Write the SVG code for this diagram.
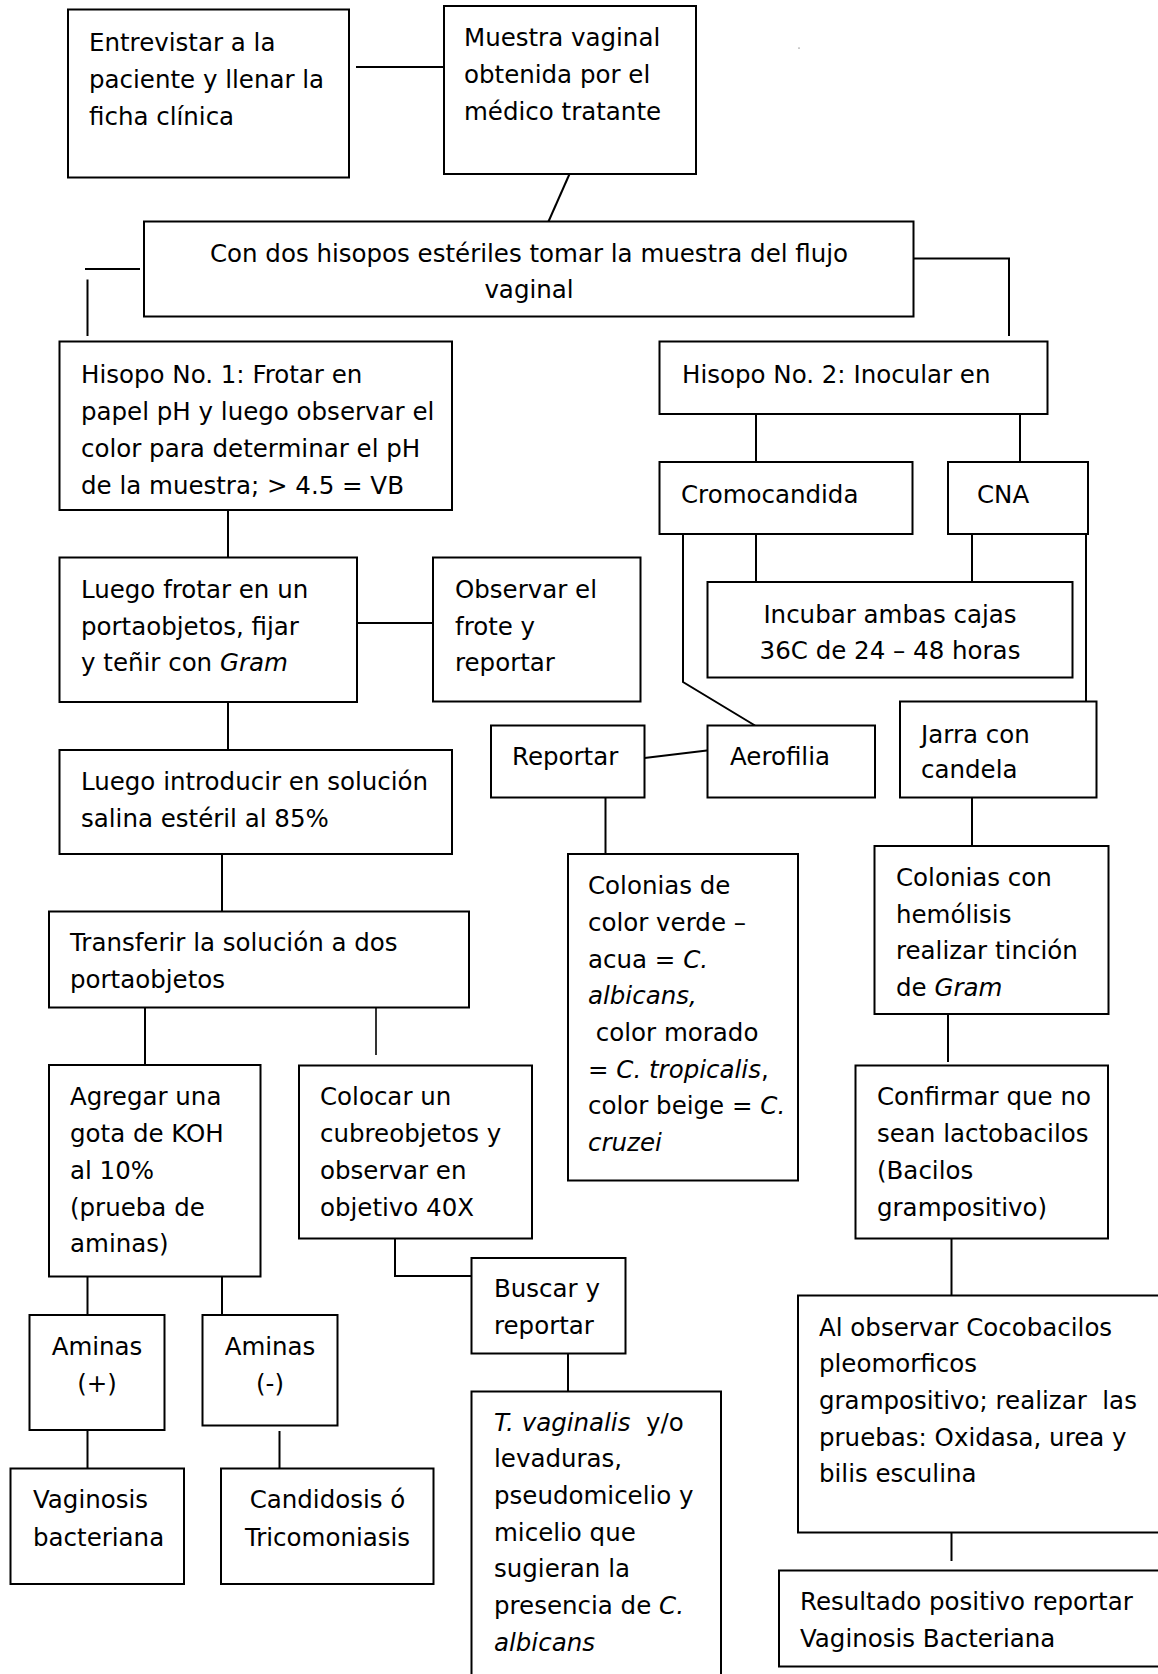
<svg xmlns="http://www.w3.org/2000/svg" width="1158" height="1674" viewBox="0 0 1158 1674">
<style>
.box{fill:#fff;stroke:#000;stroke-width:2}
.t{font-family:"DejaVu Sans",sans-serif;font-size:24.5px;fill:#000}
.i{font-style:italic}
.c{text-anchor:middle}
.ln{stroke:#000;stroke-width:2;fill:none}
</style>
<rect width="1158" height="1674" fill="#fff"/>
<g id="connectors">
<path class="ln" d="M356,67 H452"/>
<path class="ln" d="M569.5,174 L548.5,221.5"/>
<path class="ln" d="M85,269 H140"/>
<path class="ln" d="M87.5,279.5 V336"/>
<path class="ln" d="M913.5,258.5 H1009 V336"/>
<path class="ln" d="M756,414 V462"/>
<path class="ln" d="M1020,414 V462"/>
<path class="ln" d="M756,534 V582"/>
<path class="ln" d="M972,534 V582"/>
<path class="ln" d="M683,528 V682 L755,725.5"/>
<path class="ln" d="M1086,528 V701.5"/>
<path class="ln" d="M644.5,758 L711,750"/>
<path class="ln" d="M228,510 V557.5"/>
<path class="ln" d="M357,623 H433"/>
<path class="ln" d="M228,702 V750"/>
<path class="ln" d="M222,854 V911.5"/>
<path class="ln" d="M145,1007.5 V1065"/>
<path class="ln" d="M376,1007.5 V1055" style="stroke-width:1.6"/>
<path class="ln" d="M605.5,797.5 V854"/>
<path class="ln" d="M972,797.5 V846"/>
<path class="ln" d="M948,1014 V1062"/>
<path class="ln" d="M951.5,1238.5 V1295.5"/>
<path class="ln" d="M951.5,1532.5 V1561"/>
<path class="ln" d="M395,1238.5 V1276 H471.5"/>
<path class="ln" d="M568,1353.5 V1391.5"/>
<path class="ln" d="M87.5,1276.5 V1315"/>
<path class="ln" d="M222,1276.5 V1315"/>
<path class="ln" d="M87.5,1430 V1468.5"/>
<path class="ln" d="M279.5,1431 V1468.5"/>
</g>
<rect x="798.5" y="47.5" width="1" height="1.2" fill="#666"/>
<g id="n1"><rect class="box" x="68" y="9.5" width="281" height="168"/>
<text class="t"><tspan x="89" y="51">Entrevistar a la</tspan><tspan x="89" y="88">paciente y llenar la</tspan><tspan x="89" y="125">ficha clínica</tspan></text></g>
<g id="n2"><rect class="box" x="444" y="6" width="252" height="168"/>
<text class="t"><tspan x="464" y="46">Muestra vaginal</tspan><tspan x="464" y="83">obtenida por el</tspan><tspan x="464" y="120">médico tratante</tspan></text></g>
<g id="n3"><rect class="box" x="144" y="221.5" width="769.5" height="95"/>
<text class="t c"><tspan x="529" y="262">Con dos hisopos estériles tomar la muestra del flujo</tspan><tspan x="529" y="298">vaginal</tspan></text></g>
<g id="n4"><rect class="box" x="59.5" y="341.5" width="392.5" height="168.5"/>
<text class="t"><tspan x="81" y="383">Hisopo No. 1: Frotar en</tspan><tspan x="81" y="420">papel pH y luego observar el</tspan><tspan x="81" y="457">color para determinar el pH</tspan><tspan x="81" y="494">de la muestra; &gt; 4.5 = VB</tspan></text></g>
<g id="n5"><rect class="box" x="659.5" y="341.5" width="388" height="72.5"/>
<text class="t" x="682" y="383">Hisopo No. 2: Inocular en</text></g>
<g id="n6"><rect class="box" x="659.5" y="462" width="253" height="72"/>
<text class="t" x="681" y="503">Cromocandida</text></g>
<g id="n7"><rect class="box" x="948" y="462" width="140" height="72"/>
<text class="t" x="977" y="503">CNA</text></g>
<g id="n8"><rect class="box" x="707.5" y="582" width="365" height="95.5"/>
<text class="t c"><tspan x="890" y="623">Incubar ambas cajas</tspan><tspan x="890" y="659">36C de 24 – 48 horas</tspan></text></g>
<g id="n9"><rect class="box" x="433" y="557.5" width="207.5" height="144"/>
<text class="t"><tspan x="455" y="598">Observar el</tspan><tspan x="455" y="635">frote y</tspan><tspan x="455" y="671">reportar</tspan></text></g>
<g id="n10"><rect class="box" x="59.5" y="557.5" width="297.5" height="144.5"/>
<text class="t"><tspan x="81" y="598">Luego frotar en un</tspan><tspan x="81" y="635">portaobjetos, fijar</tspan><tspan x="81" y="671">y teñir con <tspan class="i">Gram</tspan></tspan></text></g>
<g id="n11"><rect class="box" x="491" y="725.5" width="153.5" height="72"/>
<text class="t" x="512" y="765">Reportar</text></g>
<g id="n12"><rect class="box" x="707.5" y="725.5" width="167.5" height="72"/>
<text class="t" x="730" y="765">Aerofilia</text></g>
<g id="n13"><rect class="box" x="900" y="701.5" width="196.5" height="96"/>
<text class="t"><tspan x="921" y="743">Jarra con</tspan><tspan x="921" y="778">candela</tspan></text></g>
<g id="n14"><rect class="box" x="59.5" y="750" width="392.5" height="104"/>
<text class="t"><tspan x="81" y="790">Luego introducir en solución</tspan><tspan x="81" y="827">salina estéril al 85%</tspan></text></g>
<g id="n15"><rect class="box" x="568" y="854" width="230" height="326.5"/>
<text class="t" xml:space="preserve"><tspan x="588" y="894">Colonias de</tspan><tspan x="588" y="931">color verde –</tspan><tspan x="588" y="968">acua = <tspan class="i">C.</tspan></tspan><tspan x="588" y="1004" class="i">albicans,</tspan><tspan x="588" y="1041"> color morado</tspan><tspan x="588" y="1078">= <tspan class="i">C. tropicalis</tspan>,</tspan><tspan x="588" y="1114">color beige = <tspan class="i">C.</tspan></tspan><tspan x="588" y="1151" class="i">cruzei</tspan></text></g>
<g id="n16"><rect class="box" x="874.5" y="846" width="234" height="168"/>
<text class="t"><tspan x="896" y="886">Colonias con</tspan><tspan x="896" y="923">hemólisis</tspan><tspan x="896" y="959">realizar tinción</tspan><tspan x="896" y="996">de <tspan class="i">Gram</tspan></tspan></text></g>
<g id="n17"><rect class="box" x="49" y="911.5" width="420" height="96"/>
<text class="t"><tspan x="70" y="951">Transferir la solución a dos</tspan><tspan x="70" y="988">portaobjetos</tspan></text></g>
<g id="n18"><rect class="box" x="49" y="1065" width="211.5" height="211.5"/>
<text class="t"><tspan x="70" y="1105">Agregar una</tspan><tspan x="70" y="1142">gota de KOH</tspan><tspan x="70" y="1179">al 10%</tspan><tspan x="70" y="1216">(prueba de</tspan><tspan x="70" y="1252">aminas)</tspan></text></g>
<g id="n19"><rect class="box" x="299" y="1065.5" width="233" height="173"/>
<text class="t"><tspan x="320" y="1105">Colocar un</tspan><tspan x="320" y="1142">cubreobjetos y</tspan><tspan x="320" y="1179">observar en</tspan><tspan x="320" y="1216">objetivo 40X</tspan></text></g>
<g id="n20"><rect class="box" x="855.5" y="1065.5" width="252.5" height="173"/>
<text class="t"><tspan x="877" y="1105">Confirmar que no</tspan><tspan x="877" y="1142">sean lactobacilos</tspan><tspan x="877" y="1179">(Bacilos</tspan><tspan x="877" y="1216">grampositivo)</tspan></text></g>
<g id="n21"><rect class="box" x="471.5" y="1258" width="154" height="95.5"/>
<text class="t"><tspan x="494" y="1297">Buscar y</tspan><tspan x="494" y="1334">reportar</tspan></text></g>
<g id="n22"><rect class="box" x="29.5" y="1315" width="135" height="115"/>
<text class="t c"><tspan x="97" y="1355">Aminas</tspan><tspan x="97" y="1392">(+)</tspan></text></g>
<g id="n23"><rect class="box" x="202.5" y="1315" width="135" height="110.5"/>
<text class="t c"><tspan x="270" y="1355">Aminas</tspan><tspan x="270" y="1392">(-)</tspan></text></g>
<g id="n24"><rect class="box" x="471.5" y="1391.5" width="249.5" height="300"/>
<text class="t" xml:space="preserve"><tspan x="494" y="1431"><tspan class="i">T. vaginalis</tspan>  y/o</tspan><tspan x="494" y="1467">levaduras,</tspan><tspan x="494" y="1504">pseudomicelio y</tspan><tspan x="494" y="1541">micelio que</tspan><tspan x="494" y="1577">sugieran la</tspan><tspan x="494" y="1614">presencia de <tspan class="i">C.</tspan></tspan><tspan x="494" y="1651" class="i">albicans</tspan></text></g>
<g id="n25"><rect class="box" x="798" y="1295.5" width="400" height="237"/>
<text class="t" xml:space="preserve"><tspan x="819" y="1336">Al observar Cocobacilos</tspan><tspan x="819" y="1372">pleomorficos</tspan><tspan x="819" y="1409">grampositivo; realizar  las</tspan><tspan x="819" y="1446">pruebas: Oxidasa, urea y</tspan><tspan x="819" y="1482">bilis esculina</tspan></text></g>
<g id="n26"><rect class="box" x="10.5" y="1468.5" width="173.5" height="115.5"/>
<text class="t"><tspan x="33" y="1508">Vaginosis</tspan><tspan x="33" y="1546">bacteriana</tspan></text></g>
<g id="n27"><rect class="box" x="221" y="1468.5" width="212.5" height="115.5"/>
<text class="t c"><tspan x="327.5" y="1508">Candidosis ó</tspan><tspan x="327.5" y="1546">Tricomoniasis</tspan></text></g>
<g id="n28"><rect class="box" x="779" y="1570.5" width="400" height="96"/>
<text class="t"><tspan x="800" y="1610">Resultado positivo reportar</tspan><tspan x="800" y="1647">Vaginosis Bacteriana</tspan></text></g>
</svg>
